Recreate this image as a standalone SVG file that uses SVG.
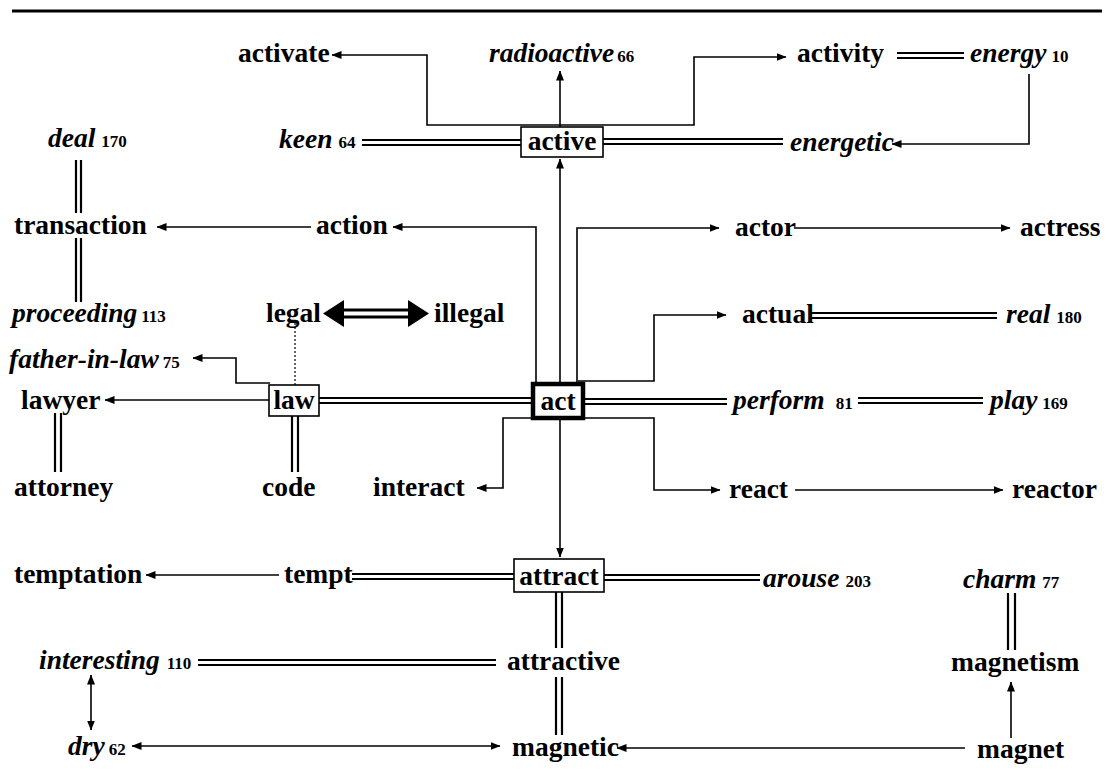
<svg xmlns="http://www.w3.org/2000/svg" width="1109" height="777" viewBox="0 0 1109 777">
<style>
text{font-family:"Liberation Serif","Times New Roman",serif;font-weight:bold;fill:#000}
.w{font-size:27.5px}
.i{font-size:27.5px;font-style:italic}
.n{font-size:17px;font-style:normal}
.c{fill:none;stroke:#000;stroke-width:1.6}
.d{fill:none;stroke:#000;stroke-width:2.2}
.box{fill:#fff;stroke:#000;stroke-width:1.6}
.bbox{fill:#fff;stroke:#000;stroke-width:4.5}
</style>
<defs>
<marker id="ah" viewBox="0 0 10 8" refX="9.5" refY="4" markerWidth="10" markerHeight="8" markerUnits="userSpaceOnUse" orient="auto-start-reverse">
<path d="M0,0 L10,4 L0,8 z" fill="#000"/>
</marker>
</defs>
<rect width="1109" height="777" fill="#fff"/>
<line x1="12" y1="11" x2="1102" y2="11" stroke="#000" stroke-width="3"/>

<g id="connectors">
<path class="c" d="M560,125 H427 V55 H332" marker-end="url(#ah)"/>
<path class="c" d="M560,125 H694 V57 H786" marker-end="url(#ah)"/>
<path class="c" d="M560,127 V71" marker-end="url(#ah)"/>
<path class="c" d="M560,382 V159" marker-end="url(#ah)"/>
<path class="c" d="M1029,74 V144 H892" marker-end="url(#ah)"/>
<path class="c" d="M311,227 H157" marker-end="url(#ah)"/>
<path class="c" d="M536,382 V227 H393" marker-end="url(#ah)"/>
<path class="c" d="M577,382 V228 H719" marker-end="url(#ah)"/>
<path class="c" d="M794,228 H1010" marker-end="url(#ah)"/>
<path class="c" d="M578,381 H654 V315 H726" marker-end="url(#ah)"/>
<path class="c" d="M270,383 H236 V358 H193" marker-end="url(#ah)"/>
<path class="c" d="M269,400 H105" marker-end="url(#ah)"/>
<path class="c" d="M531,418 H503 V488 H477" marker-end="url(#ah)"/>
<path class="c" d="M585,418 H654 V490 H720" marker-end="url(#ah)"/>
<path class="c" d="M795,490 H1003" marker-end="url(#ah)"/>
<path class="c" d="M560,420 V557" marker-end="url(#ah)"/>
<path class="c" d="M279,575 H146" marker-end="url(#ah)"/>
<path class="c" d="M91,675 V730" marker-start="url(#ah)" marker-end="url(#ah)"/>
<path class="c" d="M132,746 H500" marker-start="url(#ah)" marker-end="url(#ah)"/>
<path class="c" d="M965,748 H617" marker-end="url(#ah)"/>
<path class="c" d="M1011,738 V682" marker-end="url(#ah)"/>
<path d="M295,323 V385" fill="none" stroke="#000" stroke-width="1.2" stroke-dasharray="2,2"/>
<path class="d" d="M897,53 H964 M897,58 H964"/>
<path class="d" d="M362,140 H521 M362,145 H521"/>
<path class="d" d="M603,139 H783 M603,144 H783"/>
<path class="d" d="M76,160 V213 M81,160 V213"/>
<path class="d" d="M76,238 V302 M81,238 V302"/>
<path class="d" d="M811,313 H997 M811,318 H997"/>
<path class="d" d="M55,413 V472 M61,413 V472"/>
<path class="d" d="M319,398 H531 M319,403 H531"/>
<path class="d" d="M292,416 V472 M298,416 V472"/>
<path class="d" d="M585,399 H727 M585,404 H727"/>
<path class="d" d="M858,398 H983 M858,403 H983"/>
<path class="d" d="M352,574 H514 M352,579 H514"/>
<path class="d" d="M604,575 H760 M604,580 H760"/>
<path class="d" d="M556,592 V648 M562,592 V648"/>
<path class="d" d="M198,660 H496 M198,665 H496"/>
<path class="d" d="M556,677 V735 M562,677 V735"/>
<path class="d" d="M1008,593 V650 M1015,593 V650"/>
<g id="legal-illegal">
<path d="M343,310 H409 M343,317 H409" fill="none" stroke="#000" stroke-width="3"/>
<polygon points="323,313.5 344,300 344,327" fill="#000"/>
<polygon points="429,313.5 408,300 408,327" fill="#000"/>
</g>
</g>

<g id="activate"><text class="w" x="238" y="62">activate</text></g>
<g id="radioactive"><text class="i" x="489" y="62">radioactive<tspan class="n" dx="3">66</tspan></text></g>
<g id="activity"><text class="w" x="797" y="62">activity</text></g>
<g id="energy"><text class="i" x="970" y="62">energy<tspan class="n" dx="5">10</tspan></text></g>
<g id="keen"><text class="i" x="279" y="148">keen<tspan class="n" dx="6">64</tspan></text></g>
<g id="active"><rect class="box" x="521" y="127" width="82" height="30"/><text class="w" x="562" y="150" text-anchor="middle">active</text></g>
<g id="energetic"><text class="i" x="790" y="151">energetic</text></g>
<g id="deal"><text class="i" x="48" y="147">deal<tspan class="n" dx="6">170</tspan></text></g>
<g id="transaction"><text class="w" x="14" y="234">transaction</text></g>
<g id="action"><text class="w" x="316" y="234">action</text></g>
<g id="actor"><text class="w" x="735" y="236">actor</text></g>
<g id="actress"><text class="w" x="1020" y="236">actress</text></g>
<g id="proceeding"><text class="i" x="12" y="322">proceeding<tspan class="n" dx="4">113</tspan></text></g>
<g id="legal"><text class="w" x="266" y="322">legal</text></g>
<g id="illegal"><text class="w" x="434" y="322">illegal</text></g>
<g id="actual"><text class="w" x="742" y="323">actual</text></g>
<g id="real"><text class="i" x="1006" y="323">real<tspan class="n" dx="6">180</tspan></text></g>
<g id="father-in-law"><text class="i" x="9" y="368">father-in-law<tspan class="n" dx="4">75</tspan></text></g>
<g id="lawyer"><text class="w" x="21" y="409">lawyer</text></g>
<g id="law"><rect class="box" x="269" y="385" width="50" height="31"/><text class="w" x="294" y="409" text-anchor="middle">law</text></g>
<g id="act"><rect class="bbox" x="533" y="384" width="50" height="34"/><text class="w" x="558" y="410" text-anchor="middle">act</text></g>
<g id="perform"><text class="i" x="733" y="409">perform<tspan class="n" dx="11">81</tspan></text></g>
<g id="play"><text class="i" x="990" y="409">play<tspan class="n" dx="5">169</tspan></text></g>
<g id="attorney"><text class="w" x="14" y="496">attorney</text></g>
<g id="code"><text class="w" x="262" y="496">code</text></g>
<g id="interact"><text class="w" x="373" y="496">interact</text></g>
<g id="react"><text class="w" x="729" y="498">react</text></g>
<g id="reactor"><text class="w" x="1012" y="498">reactor</text></g>
<g id="temptation"><text class="w" x="14" y="583">temptation</text></g>
<g id="tempt"><text class="w" x="284" y="583">tempt</text></g>
<g id="attract"><rect class="box" x="514" y="559" width="90" height="33"/><text class="w" x="559" y="585" text-anchor="middle">attract</text></g>
<g id="arouse"><text class="i" x="763" y="587">arouse<tspan class="n" dx="6">203</tspan></text></g>
<g id="charm"><text class="i" x="963" y="588">charm<tspan class="n" dx="6">77</tspan></text></g>
<g id="interesting"><text class="i" x="39" y="669">interesting<tspan class="n" dx="7">110</tspan></text></g>
<g id="attractive"><text class="w" x="507" y="670">attractive</text></g>
<g id="magnetism"><text class="w" x="951" y="671">magnetism</text></g>
<g id="dry"><text class="i" x="68" y="755">dry<tspan class="n" dx="4">62</tspan></text></g>
<g id="magnetic"><text class="w" x="512" y="756">magnetic</text></g>
<g id="magnet"><text class="w" x="977" y="758">magnet</text></g>
</svg>
